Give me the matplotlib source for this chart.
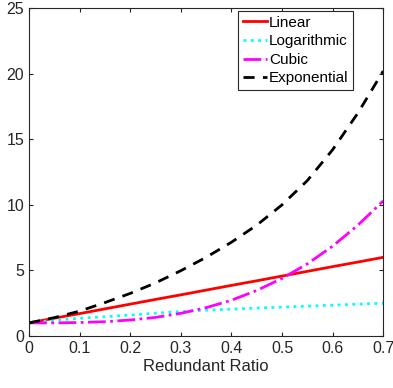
import matplotlib.pyplot as plt

plt.rcParams['font.family'] = ['Liberation Sans', 'DejaVu Sans']

# Values
ratio = [0.0, 0.05, 0.1, 0.15, 0.2, 0.25, 0.3, 0.35, 0.4, 0.45, 0.5, 0.55, 0.6, 0.65, 0.7]
linear = [1.0, 1.36, 1.71, 2.07, 2.43, 2.79, 3.14, 3.5, 3.86, 4.21, 4.57, 4.93, 5.29, 5.64, 6.0]
logarithmic = [1.0, 1.2, 1.35, 1.47, 1.6, 1.74, 1.87, 1.97, 2.05, 2.13, 2.2, 2.28, 2.35, 2.43, 2.5]
cubic = [1.0, 1.0, 1.03, 1.09, 1.22, 1.42, 1.73, 2.16, 2.73, 3.47, 4.39, 5.5, 6.85, 8.45, 10.3]
exponential = [1.0, 1.4, 1.9, 2.55, 3.25, 4.05, 4.98, 6.0, 7.15, 8.45, 10.0, 11.85, 14.2, 17.0, 20.2]

fig = plt.figure(figsize=(3.93, 3.88), dpi=100)
ax = fig.add_axes([0.074, 0.134, 0.901, 0.845])

ax.plot(ratio, linear, color='red', lw=2, ls='-', label='Linear')
ax.plot(ratio, logarithmic, color='cyan', lw=2, ls=':', label='Logarithmic')
ax.plot(ratio, cubic, color='magenta', lw=2, ls='-.', label='Cubic')
ax.plot(ratio, exponential, color='black', lw=2, ls=(0, (4, 3)), label='Exponential')

ax.set_xlim(0, 0.7)
ax.set_ylim(0, 25)
ax.set_xticks([0, 0.1, 0.2, 0.3, 0.4, 0.5, 0.6, 0.7])
ax.set_xticklabels(['0', '0.1', '0.2', '0.3', '0.4', '0.5', '0.6', '0.7'])
ax.set_yticks([0, 5, 10, 15, 20, 25])
ax.tick_params(direction='in', top=True, right=True, labelsize=11.5, length=3,
               color='#262626', labelcolor='#262626')
for s in ax.spines.values():
    s.set_color('#262626')
    s.set_linewidth(0.8)
ax.set_xlabel('Redundant Ratio', fontsize=12, color='#262626', labelpad=2)

leg = ax.legend(loc='upper right', bbox_to_anchor=(0.915, 0.991), borderaxespad=0,
                fontsize=11, handlelength=1.6, handletextpad=0.1, labelspacing=0.3,
                borderpad=0.3, fancybox=False, framealpha=1)
leg.get_frame().set_edgecolor('#262626')
leg.get_frame().set_linewidth(0.8)

fig.savefig('out.png', dpi=100)
